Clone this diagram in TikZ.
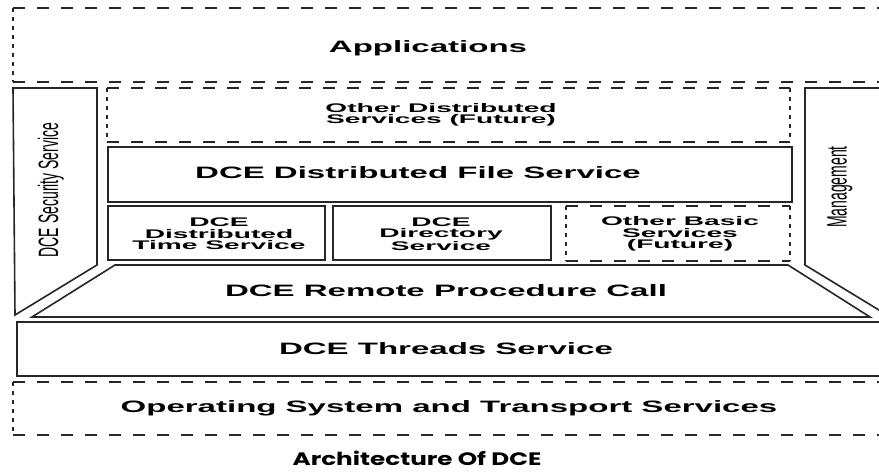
\documentclass[tikz,border=0pt]{standalone}
\usepackage{fontspec}
\usepackage{tikz}
\usetikzlibrary{positioning}
\newfontfamily\widefont[FakeStretch=2.0]{Liberation Sans}
\newfontfamily\widerfont[FakeStretch=2.25]{Liberation Sans}
\newfontfamily\narrowfont[FakeStretch=0.5]{Liberation Sans}
\newfontfamily\capfont[FakeStretch=1.37]{Poppins}
\definecolor{lineink}{gray}{0.15}

\begin{document}
\begin{tikzpicture}[
    x=1pt, y=-1pt,
    layertext/.style={font=\widefont\bfseries\fontsize{16.5}{18}\selectfont, inner sep=0pt},
    subtext/.style={font=\widerfont\bfseries\fontsize{12.5}{11.5}\selectfont, align=center, inner sep=0pt},
    sidetext/.style={font=\narrowfont\fontsize{28}{30}\selectfont, rotate=90, inner sep=0pt},
    captext/.style={font=\capfont\bfseries\fontsize{18}{20}\selectfont, inner sep=0pt, anchor=base},
    solidedge/.style={draw=lineink, line width=1.6pt, line join=miter},
    dashedge/.style={draw=lineink, line width=1.8pt, dash pattern=on 12pt off 12pt},
    dotedge/.style={draw=lineink, line width=2.4pt, dash pattern=on 4pt off 5pt}
]
    \path[use as bounding box, clip] (0,0) rectangle (879,472);

    \draw[dashedge] (13,8) -- (900,8);
    \draw[dashedge] (13,82) -- (900,82);
    \draw[dotedge] (13,8) -- (13,82);
    \node[layertext] (apps) at (428,48) {Applications};

    \draw[solidedge] (13,88) -- (97,88) -- (97,265) -- (15,315) -- cycle;
    \node[sidetext] (security) at (51,190) {DCE Security Service};

    \draw[solidedge] (920,88) -- (805,88) -- (805,265) -- (920,335);
    \node[sidetext] (mgmt) at (840,187) {Management};

    \draw[dashedge] (107,88) -- (790,88);
    \draw[dashedge] (107,142) -- (790,142);
    \draw[dotedge] (107,88) -- (107,142);
    \draw[dotedge] (790,88) -- (790,142);
    \node[subtext] (otherdist) at (441,115) {Other Distributed\\Services (Future)};

    \draw[solidedge] (108,147) rectangle (792,202);
    \node[layertext] (dfs) at (418,173) {DCE Distributed File Service};

    \draw[solidedge] (108,206) rectangle (325,260);
    \node[subtext] (dts) at (219,234) {DCE\\Distributed\\Time Service};

    \draw[solidedge] (333,206) rectangle (551,260);
    \node[subtext] (cds) at (441,234) {DCE\\Directory\\Service};

    \draw[dashedge] (566,206) -- (790,206);
    \draw[dashedge] (566,261) -- (790,261);
    \draw[dotedge] (566,206) -- (566,261);
    \draw[dotedge] (790,206) -- (790,261);
    \node[subtext] (otherbasic) at (680,234) {Other Basic\\Services\\(Future)};

    \draw[solidedge] (115,265) -- (788,265) -- (870,317) -- (32,317) -- cycle;
    \node[layertext] (rpc) at (446,291) {DCE Remote Procedure Call};

    \draw[solidedge] (900,322) -- (17,322) -- (17,376) -- (900,376);
    \node[layertext] (threads) at (446,349) {DCE Threads Service};

    \draw[dashedge] (13,382) -- (900,382);
    \draw[dashedge] (13,435) -- (900,435);
    \draw[dotedge] (13,382) -- (13,435);
    \node[layertext] (os) at (449,408) {Operating System and Transport Services};

    \node[captext] (caption) at (417,465) {Architecture Of DCE};
\end{tikzpicture}
\end{document}
